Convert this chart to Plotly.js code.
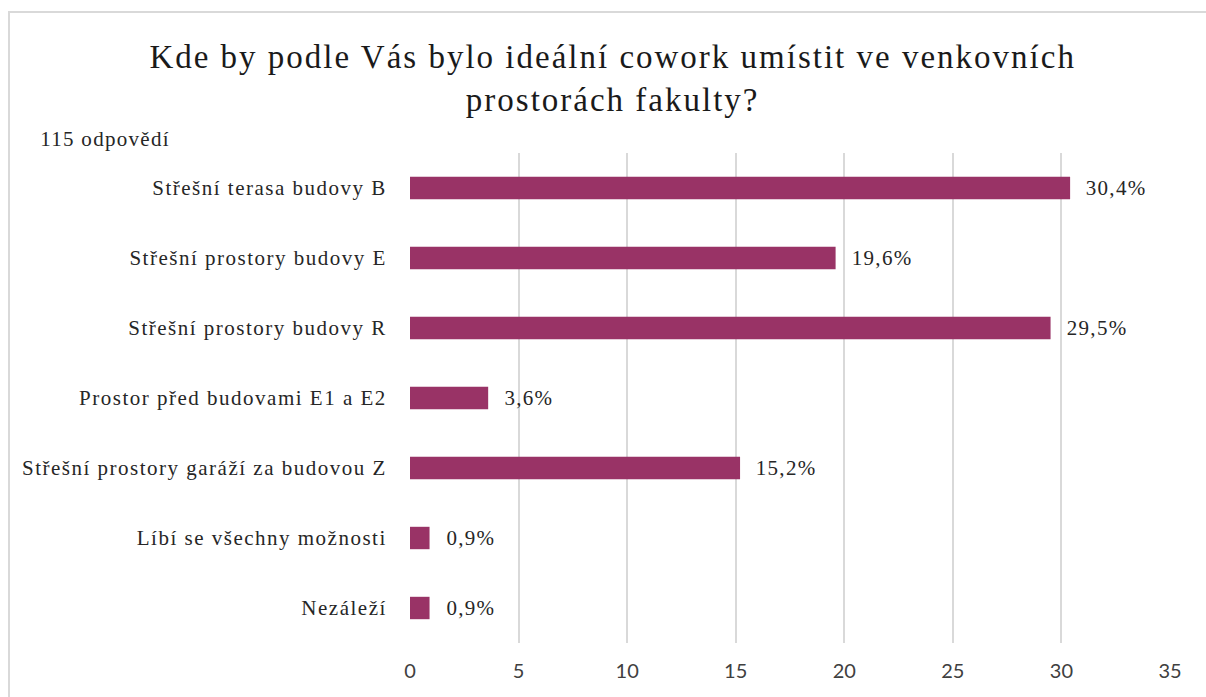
<!DOCTYPE html>
<html><head><meta charset="utf-8">
<script src="https://cdn.plot.ly/plotly-3.0.1.min.js"></script>
<style>
html,body{margin:0;padding:0;background:#fff;overflow:hidden}
#frame{position:absolute;left:8px;top:11px;width:1400px;height:900px;border:2px solid #d9d9d9;box-sizing:border-box}
#chart{position:absolute;left:0;top:0;width:1206px;height:697px}
#chart .gtitle{letter-spacing:2px}
#chart .ytick text{letter-spacing:1.5px}
#chart .annotation-text{letter-spacing:1.3px}
</style></head>
<body>
<div id="frame"></div>
<div id="chart"></div>
<script>
const categories = ["Střešní terasa budovy B","Střešní prostory budovy E","Střešní prostory budovy R","Prostor před budovami E1 a E2","Střešní prostory garáží za budovou Z","Líbí se všechny možnosti","Nezáleží"];
const values = [30.4, 19.6, 29.5, 3.6, 15.2, 0.9, 0.9];
const valueLabels = ["30,4%","19,6%","29,5%","3,6%","15,2%","0,9%","0,9%"];
const xTicks = [0,5,10,15,20,25,30,35];
const titleText = "Kde by podle Vás bylo ideální cowork umístit ve venkovních<br>prostorách fakulty?";
const subtitleText = "115 odpovědí";

const serif = "'Liberation Serif', 'Times New Roman', serif";
const trace = {
  type: "bar", orientation: "h",
  x: values, y: categories,
  marker: {color: "#993366"},
  width: 0.32,
  hoverinfo: "none"
};
const plotH = 697-153-54, plotW = 1206-410-36;
const annotations = values.map((v,i)=>({
  x: v, y: categories[i], xref: "x", yref: "y",
  text: valueLabels[i], showarrow: false, xanchor: "left", xshift: 17,
  font: {family: serif, size: 21, color: "#262626"}
}));
annotations.push({
  x: (46-410)/plotW, y: (697-54-139)/plotH, xref: "paper", yref: "paper",
  text: subtitleText, showarrow:false, xanchor: "left", yanchor: "middle",
  font: {family: serif, size: 21, color: "#262626"}
});
const layout = {
  width: 1206, height: 697,
  margin: {l: 410, r: 36, t: 153, b: 54},
  paper_bgcolor: "rgba(0,0,0,0)", plot_bgcolor: "rgba(0,0,0,0)",
  title: {text: titleText, x: 0.508, xanchor: "center", y: 0.902, yanchor: "top",
          font: {family: serif, size: 33, color: "#1a1a1a"}},
  xaxis: {range: [0, 35], tickvals: xTicks, showgrid: true, gridcolor: "#d9d9d9", gridwidth: 2,
          zeroline: false, showline: false, ticks: "outside", ticklen: 10, tickcolor: "rgba(0,0,0,0)",
          tickfont: {family: "Lato, 'Open Sans', sans-serif", size: 20, color: "#404040"}},
  yaxis: {autorange: "reversed", showgrid: false, zeroline: false, showline: false,
          ticks: "outside", ticklen: 18, tickcolor: "rgba(0,0,0,0)",
          tickfont: {family: serif, size: 21, color: "#262626"}},
  annotations: annotations,
  showlegend: false
};
Plotly.newPlot("chart", [trace], layout, {staticPlot: true});
</script>
</body></html>
